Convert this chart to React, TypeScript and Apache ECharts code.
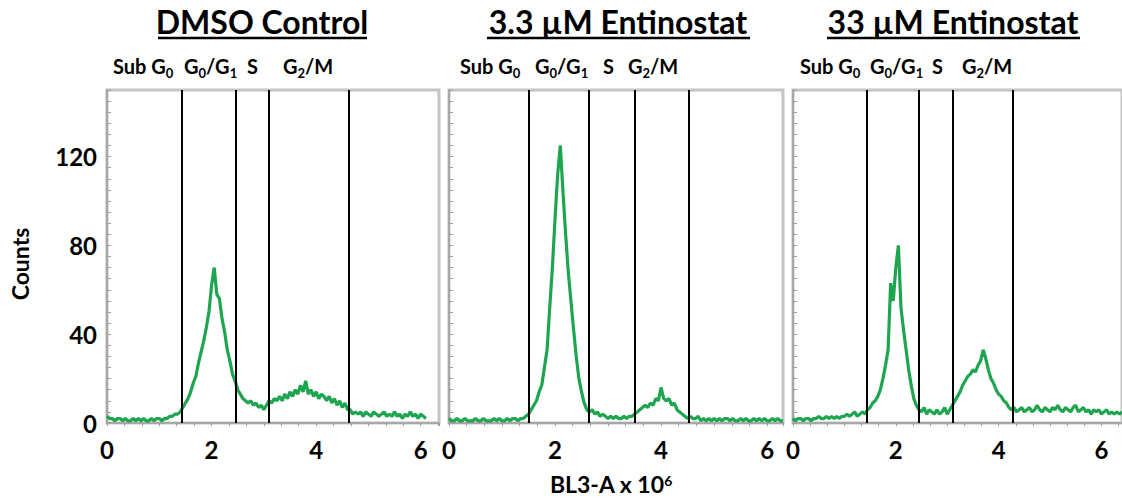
import React, { useEffect, useRef } from 'react';
import * as echarts from 'echarts';

// bin width of the histograms (BL3-A x 10^6 units)
const BIN = 0.05;

const panelTitles = ['DMSO Control', '3.3 µM Entinostat', '33 µM Entinostat'];
const yTickLabels = [0, 40, 80, 120];
const xTickLabels = [0, 2, 4, 6];

// Counts per bin, starting at 0
const dmsoCounts = [
  3, 2, 2, 1, 2, 2, 1, 2, 1, 1, 2, 1, 2, 1, 2, 1, 1, 2, 1, 2, 2, 1, 2, 2, 3, 3,
  4, 4, 5, 7, 9, 11, 14, 18, 21, 27, 32, 37, 43, 50, 62, 70, 58, 56, 47, 41, 33, 28, 22, 19,
  15, 13, 11, 10, 9, 10, 8, 9, 7, 8, 6, 8, 10, 9, 11, 10, 12, 10, 13, 11,
  14, 12, 15, 13, 17, 14, 19, 13, 15, 12, 14, 11, 13, 12, 10, 12, 9, 11, 8, 10,
  7, 9, 6, 6, 4, 5, 4, 5, 3, 5, 4, 3, 5, 4, 3, 4, 5, 3, 4, 3,
  5, 3, 4, 2, 4, 3, 5, 3, 4, 2, 4, 3, 2,
];

const ent3Counts = [
  2, 1, 1, 2, 1, 1, 2, 1, 1, 1, 2, 1, 1, 2, 1, 1, 1, 2, 1, 2, 1, 1, 2, 1, 2, 2, 1, 2, 2, 3,
  4, 6, 8, 10, 14, 17, 25, 33, 52, 70, 92, 112, 125, 104, 85, 68, 55, 42, 30, 20,
  14, 9, 6, 5, 6, 4, 5, 3, 4, 3, 2, 3, 2, 3, 2, 2, 3, 2, 3, 3,
  4, 5, 6, 7, 8, 7, 9, 8, 11, 10, 16, 11, 10, 11, 8, 9, 6, 5, 4, 3,
  2, 3, 2, 2, 3, 1, 2, 1, 2, 1, 2, 1, 2, 1, 2, 2, 1, 2, 1, 1,
  2, 1, 2, 1, 1, 2, 1, 2, 1, 2, 1, 1, 2, 1, 2, 1, 1,
];

const ent33Counts = [
  2, 1, 2, 2, 1, 2, 2, 1, 2, 2, 3, 2, 2, 3, 2, 3, 2, 3, 2, 3,
  3, 4, 3, 4, 5, 3, 4, 5, 4, 6, 7, 9, 10, 12, 15, 20, 26, 33, 63, 55,
  70, 80, 52, 42, 33, 24, 17, 11, 8, 6, 5, 7, 4, 6, 5, 4, 6, 4, 5, 7,
  4, 6, 8, 10, 12, 14, 17, 19, 21, 22, 24, 23, 26, 28, 33, 29, 24, 20, 18, 15,
  13, 12, 10, 9, 7, 6, 7, 5, 6, 7, 5, 6, 7, 5, 6, 8, 6, 5, 7, 6,
  5, 7, 6, 8, 6, 5, 7, 6, 5, 7, 8, 5, 6, 7, 5, 6, 4, 6, 5, 6,
  4, 5, 6, 4, 5, 4, 5, 4, 5,
];

const panelCounts = [dmsoCounts, ent3Counts, ent33Counts];

// Gate boundaries (Sub G0 | G0/G1 | S | G2/M)
const dmsoGates = [1.43, 2.46, 3.1, 4.63];
const ent3Gates = [1.515, 2.64, 3.51, 4.53];
const ent33Gates = [1.43, 2.44, 3.1, 4.28];
const panelGates = [dmsoGates, ent3Gates, ent33Gates];

const panelXMax = [6.35, 6.3, 6.4];
const Y_MAX = 150;

// layout (pixels)
const GRID_LEFT = [107, 449, 793];
const GRID_WIDTH = [332, 334, 338];
const GRID_TOP = 90;
const GRID_HEIGHT = 333;
const TITLE_POS = [
  { cx: 262, x1: 158, x2: 367 },
  { cx: 618, x1: 487, x2: 750 },
  { cx: 953, x1: 827, x2: 1080 },
];
const PHASE_POS = [
  [113, 184, 247, 283],
  [460, 535, 603, 628],
  [800, 870, 932, 962],
];

const FONT = 'Lato';
const GREEN = '#1ea54f';

const phaseTexts = ['{n|Sub G}{s|0}', '{n|G}{s|0}{n|/G}{s|1}', '{n|S}', '{n|G}{s|2}{n|/M}'];

const richSub = {
  n: { fontSize: 20, fontWeight: 'bold', fontFamily: FONT, fill: '#000', lineHeight: 26, verticalAlign: 'middle' },
  s: { fontSize: 13, fontWeight: 'bold', fontFamily: FONT, fill: '#000', lineHeight: 13, verticalAlign: 'bottom' },
};

export default function App() {
  const ref = useRef<HTMLDivElement>(null);
  useEffect(() => {
    if (!ref.current) return;
    const chart = echarts.init(ref.current, null, { renderer: 'svg' });

    const grids = GRID_LEFT.map((left, i) => ({
      left,
      top: GRID_TOP,
      width: GRID_WIDTH[i],
      height: GRID_HEIGHT,
      show: true,
      borderColor: '#c4c4c4',
      borderWidth: 3,
      backgroundColor: 'transparent',
    }));

    const xAxes = GRID_LEFT.map((_, i) => ({
      type: 'value',
      gridIndex: i,
      min: 0,
      max: panelXMax[i],
      interval: 2,
      axisLine: { show: true, onZero: false, lineStyle: { color: '#a8a8a8', width: 2 } },
      axisTick: { show: true, inside: false, length: 3, lineStyle: { color: '#a0a0a0' } },
      minorTick: { show: true, splitNumber: 6, length: 3, lineStyle: { color: '#a0a0a0' } },
      splitLine: { show: false },
      axisLabel: {
        show: true,
        showMaxLabel: false,
        margin: 14,
        fontSize: 24,
        fontWeight: 'bold',
        fontFamily: FONT,
        color: '#000',
        formatter: (v: number) => (xTickLabels.includes(v) ? String(v) : ''),
      },
    }));

    const yAxes = GRID_LEFT.map((_, i) => ({
      type: 'value',
      gridIndex: i,
      min: 0,
      max: Y_MAX,
      interval: 40,
      axisLine: { show: true, lineStyle: { color: '#a8a8a8', width: 2 } },
      axisTick: { show: true, inside: true, length: 4, lineStyle: { color: '#a0a0a0' } },
      minorTick: { show: true, splitNumber: 8, length: 4, lineStyle: { color: '#a0a0a0' } },
      splitLine: { show: false },
      axisLabel: {
        show: i === 0,
        showMaxLabel: false,
        margin: 10,
        fontSize: 24,
        fontWeight: 'bold',
        fontFamily: FONT,
        color: '#000',
        formatter: (v: number) => (yTickLabels.includes(v) ? String(v) : ''),
      },
    }));

    const series = panelCounts.map((counts, i) => ({
      type: 'line',
      xAxisIndex: i,
      yAxisIndex: i,
      data: counts.map((c, k) => [+(k * BIN).toFixed(2), c]),
      showSymbol: false,
      symbol: 'none',
      lineStyle: { color: GREEN, width: 3.2 },
      z: 2,
      markLine: {
        silent: true,
        symbol: ['none', 'none'],
        label: { show: false },
        lineStyle: { color: '#000', width: 2, type: 'solid' },
        data: panelGates[i].map((g) => ({ xAxis: g })),
        z: 3,
      },
    }));

    const graphics: any[] = [];
    panelTitles.forEach((t, i) => {
      graphics.push({
        type: 'text',
        x: TITLE_POS[i].cx,
        y: 21,
        style: {
          text: t,
          fontSize: 32,
          fontWeight: 'bold',
          fontFamily: FONT,
          fill: '#000',
          align: 'center',
          verticalAlign: 'middle',
        },
      });
      graphics.push({
        type: 'line',
        shape: { x1: TITLE_POS[i].x1, y1: 38, x2: TITLE_POS[i].x2, y2: 38 },
        style: { stroke: '#000', lineWidth: 2.5 },
      });
      phaseTexts.forEach((pt, j) => {
        graphics.push({
          type: 'text',
          x: PHASE_POS[i][j],
          y: 66,
          style: {
            text: pt,
            rich: richSub,
            align: 'left',
            verticalAlign: 'middle',
          },
        });
      });
    });

    graphics.push({
      type: 'text',
      x: 20,
      y: 264,
      rotation: Math.PI / 2,
      style: {
        text: 'Counts',
        fontSize: 23,
        fontWeight: 'bold',
        fontFamily: FONT,
        fill: '#000',
        align: 'center',
        verticalAlign: 'middle',
      },
    });
    graphics.push({
      type: 'text',
      x: 611,
      y: 484,
      style: {
        text: '{n|BL3-A x 10}{p|6}',
        align: 'center',
        verticalAlign: 'middle',
        rich: {
          n: { fontSize: 23, fontWeight: 'bold', fontFamily: FONT, fill: '#000', lineHeight: 22, verticalAlign: 'middle' },
          p: { fontSize: 14, fontWeight: 'bold', fontFamily: FONT, fill: '#000', lineHeight: 12, verticalAlign: 'top' },
        },
      },
    });

    chart.setOption({
      animation: false,
      backgroundColor: '#fff',
      textStyle: { fontFamily: FONT },
      grid: grids,
      xAxis: xAxes,
      yAxis: yAxes,
      series,
      graphic: graphics,
    });
    return () => chart.dispose();
  }, []);
  return <div ref={ref} style={{ position: 'absolute', left: 0, top: 0, width: 1122, height: 499 }} />;
}
